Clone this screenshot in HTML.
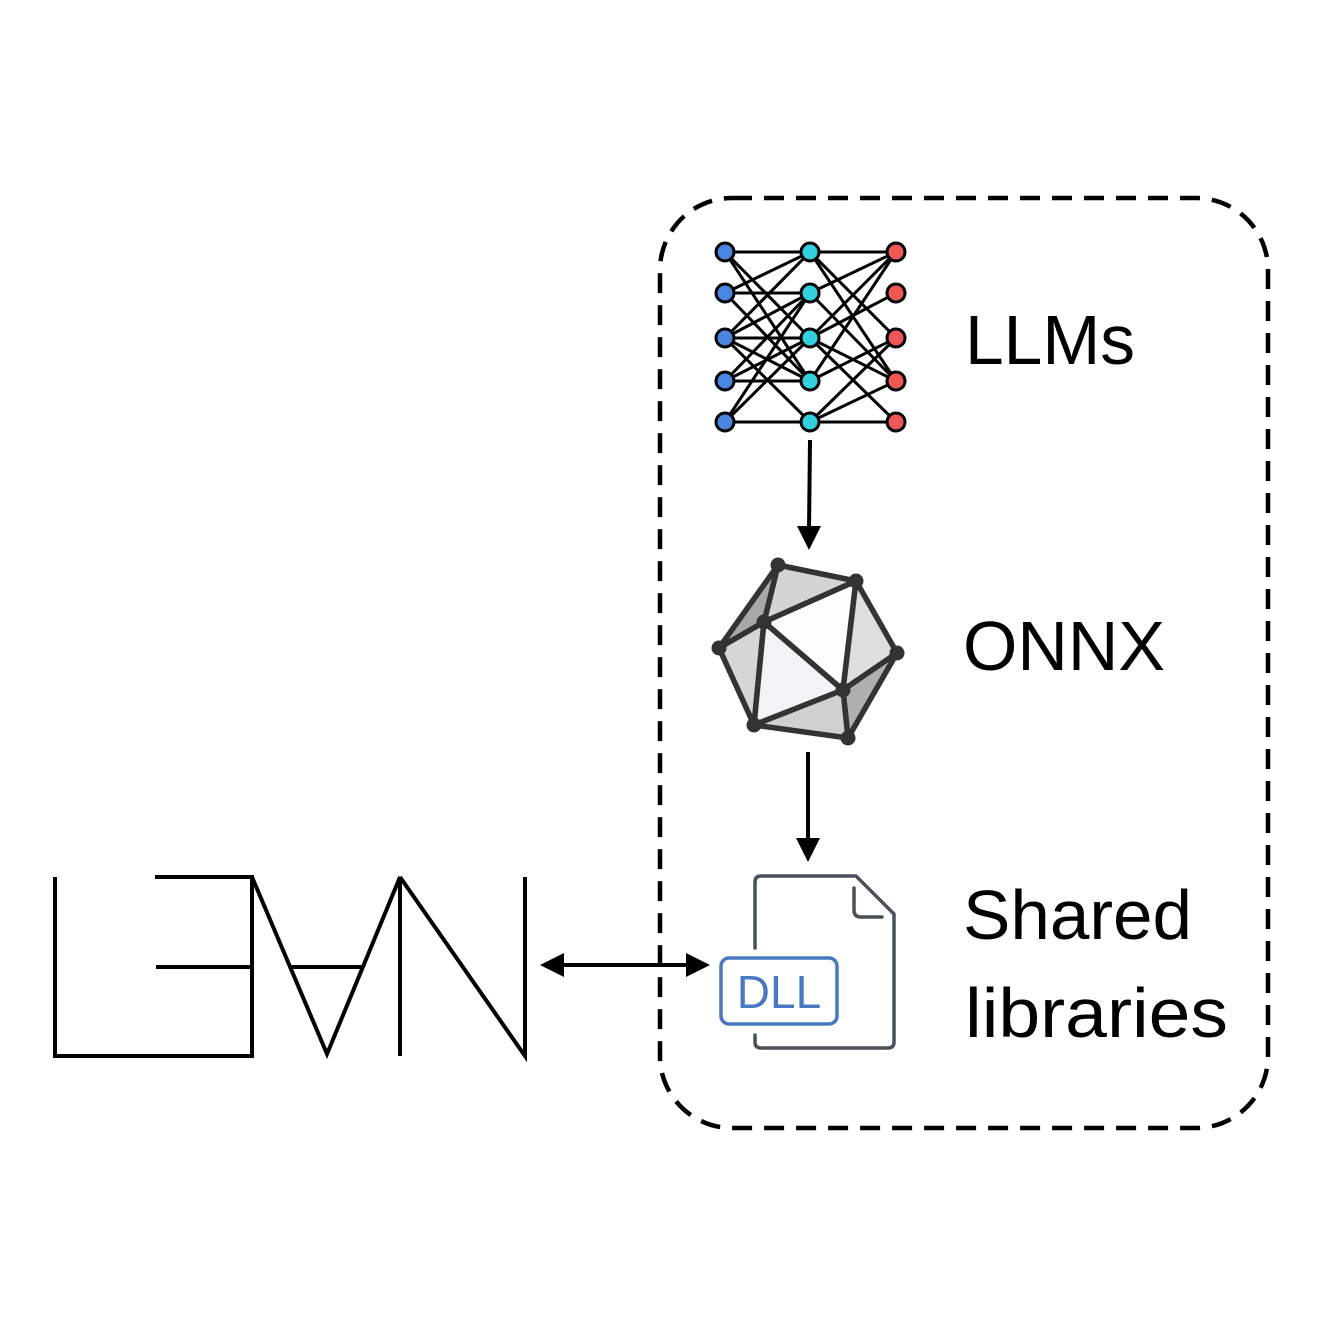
<!DOCTYPE html>
<html><head><style>body{margin:0;background:#fff}</style></head><body>
<svg width="1324" height="1324" xmlns="http://www.w3.org/2000/svg">
<rect width="1324" height="1324" fill="#fff"/>
<rect x="660" y="198" width="608" height="930" rx="72" fill="none" stroke="#000" stroke-width="4.5" stroke-dasharray="20 12"/>
<g stroke="#000" stroke-width="3">
<line x1="725" y1="252" x2="810" y2="252"/><line x1="725" y1="252" x2="810" y2="338"/><line x1="725" y1="252" x2="810" y2="381"/>
<line x1="725" y1="293" x2="810" y2="252"/><line x1="725" y1="293" x2="810" y2="293"/><line x1="725" y1="293" x2="810" y2="381"/>
<line x1="725" y1="338" x2="810" y2="252"/><line x1="725" y1="338" x2="810" y2="293"/><line x1="725" y1="338" x2="810" y2="338"/><line x1="725" y1="338" x2="810" y2="381"/><line x1="725" y1="338" x2="810" y2="422"/>
<line x1="725" y1="381" x2="810" y2="338"/><line x1="725" y1="381" x2="810" y2="381"/><line x1="725" y1="381" x2="810" y2="293"/>
<line x1="725" y1="422" x2="810" y2="338"/><line x1="725" y1="422" x2="810" y2="293"/><line x1="725" y1="422" x2="810" y2="422"/>
<line x1="810" y1="252" x2="896" y2="252"/><line x1="810" y1="252" x2="896" y2="338"/><line x1="810" y1="252" x2="896" y2="381"/>
<line x1="810" y1="293" x2="896" y2="252"/><line x1="810" y1="293" x2="896" y2="381"/>
<line x1="810" y1="338" x2="896" y2="252"/><line x1="810" y1="338" x2="896" y2="293"/><line x1="810" y1="338" x2="896" y2="422"/><line x1="810" y1="338" x2="896" y2="381"/>
<line x1="810" y1="381" x2="896" y2="338"/><line x1="810" y1="381" x2="896" y2="252"/>
<line x1="810" y1="422" x2="896" y2="338"/><line x1="810" y1="422" x2="896" y2="381"/><line x1="810" y1="422" x2="896" y2="422"/>
</g>
<g stroke="#000" stroke-width="3">
<g fill="#4a86e0"><circle cx="725" cy="252" r="9"/><circle cx="725" cy="293" r="9"/><circle cx="725" cy="338" r="9"/><circle cx="725" cy="381" r="9"/><circle cx="725" cy="422" r="9"/></g>
<g fill="#35d0e0"><circle cx="810" cy="252" r="9"/><circle cx="810" cy="293" r="9"/><circle cx="810" cy="338" r="9"/><circle cx="810" cy="381" r="9"/><circle cx="810" cy="422" r="9"/></g>
<g fill="#f05858"><circle cx="896" cy="252" r="9"/><circle cx="896" cy="293" r="9"/><circle cx="896" cy="338" r="9"/><circle cx="896" cy="381" r="9"/><circle cx="896" cy="422" r="9"/></g>
</g>
<g stroke="#333" stroke-width="5.5" stroke-linejoin="round">
<polygon points="778,565 856,581 764,622" fill="#d4d4d4"/>
<polygon points="778,565 764,622 719,648" fill="#a8a8a8"/>
<polygon points="764,622 719,648 754,725" fill="#d6d6d6"/>
<polygon points="764,622 843,690 754,725" fill="#f2f3f5"/>
<polygon points="764,622 856,581 843,690" fill="#fdfdfd"/>
<polygon points="856,581 897,653 843,690" fill="#dedede"/>
<polygon points="897,653 843,690 848,738" fill="#b0b0b0"/>
<polygon points="843,690 754,725 848,738" fill="#d0d0d0"/>
</g>
<g fill="#333"><circle cx="778" cy="565" r="7.5"/><circle cx="856" cy="581" r="7.5"/><circle cx="764" cy="622" r="7.5"/><circle cx="719" cy="648" r="7.5"/><circle cx="897" cy="653" r="7.5"/><circle cx="843" cy="690" r="7.5"/><circle cx="754" cy="725" r="7.5"/><circle cx="848" cy="738" r="7.5"/></g>
<g fill="none" stroke="#4a505a" stroke-width="3.5" stroke-linecap="round" stroke-linejoin="round">
<path d="M755,948 V882 Q755,876 761,876 H856 L894,914 V1042 Q894,1048 888,1048 H761 Q755,1048 755,1042 V1035"/>
<path d="M854,888 V910 Q854,917 861,917 H882"/>
</g>
<rect x="721" y="958" width="116" height="66" rx="8" fill="none" stroke="#4a78c0" stroke-width="3.5"/>
<text x="779" y="1008" font-family="Liberation Sans, sans-serif" font-size="46" fill="#4a78c0" text-anchor="middle">DLL</text>
<g stroke="#000" stroke-width="4" fill="none">
<line x1="810" y1="440" x2="809" y2="530"/><polygon points="797,526 821,526 809,550" fill="#000" stroke="none"/>
<line x1="808" y1="752" x2="808" y2="842"/><polygon points="796,838 820,838 808,862" fill="#000" stroke="none"/>
<line x1="560" y1="965" x2="690" y2="965"/>
<polygon points="540,965 564,953 564,977" fill="#000" stroke="none"/>
<polygon points="710,965 686,953 686,977" fill="#000" stroke="none"/>
</g>
<g stroke="#000" stroke-width="4" fill="none">
<polyline points="55,877 55,1056 252,1056 252,877 155,877"/>
<line x1="156" y1="967" x2="252" y2="967"/>
<line x1="290" y1="967" x2="362" y2="967"/>
<polyline points="252,877 327,1054 400,877 400,1056"/>
<polyline points="400,877 525,1056 525,877"/>
</g>
<g font-family="Liberation Sans, sans-serif" font-size="70" fill="#000" lengthAdjust="spacingAndGlyphs">
<text x="965" y="364" textLength="170" lengthAdjust="spacingAndGlyphs">LLMs</text>
<text x="963" y="670" textLength="202" lengthAdjust="spacingAndGlyphs">ONNX</text>
<text x="963" y="939" textLength="229" lengthAdjust="spacingAndGlyphs">Shared</text>
<text x="965" y="1037" textLength="263" lengthAdjust="spacingAndGlyphs">libraries</text>
</g>
</svg>
</body></html>
